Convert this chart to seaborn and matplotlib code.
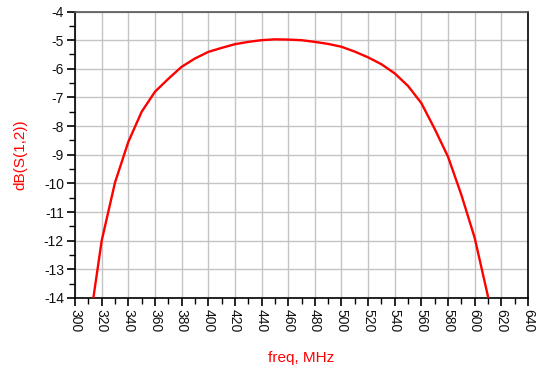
import matplotlib
matplotlib.use("Agg")
import matplotlib.pyplot as plt
import seaborn as sns
import pandas as pd
import numpy as np
from matplotlib.ticker import MultipleLocator

freq = [310, 320, 330, 340, 350, 360, 370, 380, 390, 400, 410, 420, 430, 440,
        450, 460, 470, 480, 490, 500, 510, 520, 530, 540, 550, 560, 570, 580,
        590, 600, 610, 620]
db_s12 = [-15.2, -12.0, -9.97, -8.55, -7.5, -6.8, -6.35, -5.93, -5.64, -5.41,
          -5.27, -5.14, -5.06, -5.0, -4.97, -4.98, -5.0, -5.06, -5.13, -5.23,
          -5.4, -5.6, -5.84, -6.16, -6.6, -7.2, -8.1, -9.07, -10.4, -11.9,
          -13.95, -16.3]

df = pd.DataFrame({"freq": freq, "db": db_s12})

sns.set_style("ticks")
plt.rcParams['font.family'] = ['Liberation Sans', 'DejaVu Sans']
plt.rcParams['axes.unicode_minus'] = False

fig = plt.figure(figsize=(5.36, 3.72), dpi=100)
ax = fig.add_axes([0.14, 0.199, 0.845, 0.77])

sns.lineplot(data=df, x="freq", y="db", ax=ax, color="#ff0000", linewidth=1.7,
             clip_on=True, zorder=3)

ax.set_xlim(300, 640)
ax.set_ylim(-14, -4)
ax.xaxis.set_major_locator(MultipleLocator(20))
ax.xaxis.set_minor_locator(MultipleLocator(10))
ax.yaxis.set_major_locator(MultipleLocator(1))
ax.yaxis.set_minor_locator(MultipleLocator(0.5))

ax.grid(True, which="major", color="#c4c4c4", linewidth=1.0, zorder=0)
ax.set_axisbelow(True)

ax.tick_params(axis="both", which="major", direction="out", length=6, width=1.2,
               color="black", labelsize=10, labelcolor="#111111", pad=2)
ax.tick_params(axis="both", which="minor", direction="out", length=4, width=1.0,
               color="black")
for lab in ax.get_xticklabels():
    lab.set_rotation(270)
    lab.set_va("top")
    lab.set_ha("center")

for s in ["left", "bottom"]:
    ax.spines[s].set_color("black")
    ax.spines[s].set_linewidth(1.2)
ax.spines["top"].set_visible(True)
ax.spines["right"].set_visible(True)
ax.spines["top"].set_color("#555555")
ax.spines["top"].set_linewidth(1.2)
ax.spines["right"].set_color("black")
ax.spines["right"].set_linewidth(1.2)

ax.set_xlabel("freq, MHz", color="#ff0000", fontsize=11, labelpad=13)
ax.set_ylabel("dB(S(1,2))", color="#ff0000", fontsize=11, labelpad=12)

fig.savefig("out.png", dpi=100)
